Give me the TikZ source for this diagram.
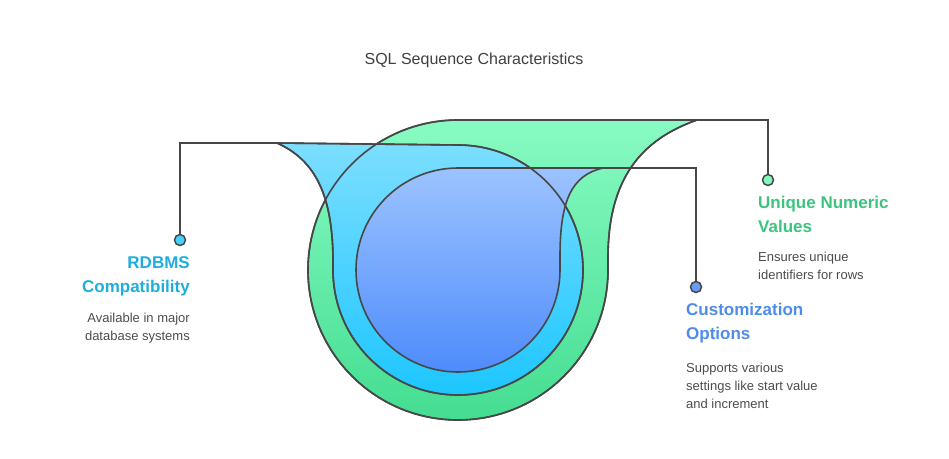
\documentclass[tikz,border=0pt]{standalone}
\usepackage{fontspec}
\setmainfont{Liberation Sans}
\begin{document}
\begin{tikzpicture}[x=1pt,y=-1pt,
  outl/.style={draw=black!72,line width=1.6pt},
  head/.style={font=\bfseries\fontsize{17}{24}\selectfont,inner sep=0pt},
  body/.style={font=\fontsize{13}{18}\selectfont,text=black!70,inner sep=0pt},
  dotc/.style={circle,draw=black!72,line width=1.5pt,minimum size=11pt,inner sep=0pt}]
\definecolor{gT}{HTML}{88FBC3}\definecolor{gB}{HTML}{44DD91}
\definecolor{cT}{HTML}{7CDEFF}\definecolor{cB}{HTML}{1CC6FF}
\definecolor{bT}{HTML}{9CC3FF}\definecolor{bB}{HTML}{4E8CFB}
\definecolor{hG}{HTML}{3CC47F}\definecolor{hC}{HTML}{1FAEDB}\definecolor{hB}{HTML}{4E8CEB}
\useasboundingbox (0,0) rectangle (949,458);
\node[font=\fontsize{16}{20}\selectfont,text=black!75] (title) at (474,60) {SQL Sequence Characteristics};
% green
\path[top color=gT,bottom color=gB,outl] (697,120) -- (458,120) arc[start angle=-90,end angle=-360,radius=150] -- (608,258) .. controls (608,180) and (640,140) .. (697,120) -- cycle;
% cyan
\path[top color=cT,bottom color=cB,outl] (277,143) -- (458,145) arc[start angle=-90,end angle=180,radius=125] -- (333,262) .. controls (333,195) and (315,160) .. (277,143) -- cycle;
% blue
\path[top color=bT,bottom color=bB,outl] (603,168) -- (458,168) arc[start angle=-90,end angle=-360,radius=102] -- (560,256) .. controls (560,200) and (572,175) .. (603,168) -- cycle;
% outlines again
\draw[outl] (697,120) -- (458,120) arc[start angle=-90,end angle=-360,radius=150] -- (608,258) .. controls (608,180) and (640,140) .. (697,120);
\draw[outl] (277,143) -- (458,145) arc[start angle=-90,end angle=180,radius=125] -- (333,262) .. controls (333,195) and (315,160) .. (277,143);
% dots and connectors
\coordinate (cR) at (277,143);\coordinate (cU) at (697,120);\coordinate (cC) at (603,168);
\node[dotc,fill=cB!80] (dR) at (180,240) {};
\node[dotc,fill=gT!90!gB] (dU) at (768,180) {};
\node[dotc,fill=bB!85] (dC) at (696,287) {};
\draw[outl] (dR.north) |- (cR);
\draw[outl] (dU.north) |- (cU);
\draw[outl] (dC.north) |- (cC);
% texts
\node[head,text=hC,align=right,anchor=north east] (hR) at (190,256) {RDBMS\\Compatibility};
\node[body,align=right,anchor=north east] (bR) at (190,313) {Available in major\\database systems};
\node[head,text=hG,align=left,anchor=north west] (hU) at (758,196) {Unique Numeric\\Values};
\node[body,align=left,anchor=north west] (bU) at (758,252) {Ensures unique\\identifiers for rows};
\node[head,text=hB,align=left,anchor=north west] (hCu) at (686,303) {Customization\\Options};
\node[body,align=left,anchor=north west] (bC) at (686,363) {Supports various\\settings like start value\\and increment};
\end{tikzpicture}
\end{document}
